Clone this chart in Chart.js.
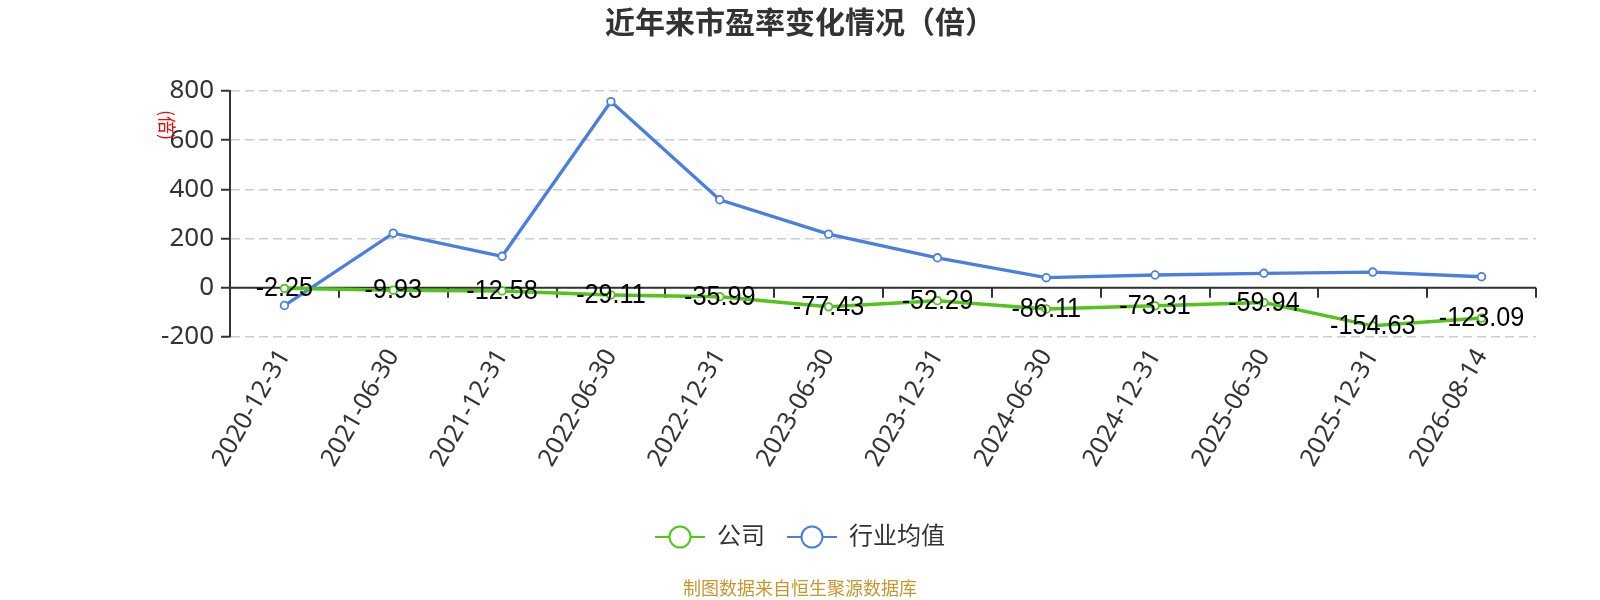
<!DOCTYPE html>
<html>
<head>
<meta charset="utf-8">
<script src="https://cdn.jsdelivr.net/npm/chart.js@4.4.1/dist/chart.umd.min.js"></script>
<style>
html, body { margin: 0; padding: 0; background: #fff; }
</style>
</head>
<body>
<canvas id="myChart" width="1600" height="600"></canvas>
<script>
const dates = ['2020-12-31','2021-06-30','2021-12-31','2022-06-30','2022-12-31','2023-06-30',
               '2023-12-31','2024-06-30','2024-12-31','2025-06-30','2025-12-31','2026-08-14'];
const companyPE = [-2.25,-9.93,-12.58,-29.11,-35.99,-77.43,-52.29,-86.11,-73.31,-59.94,-154.63,-123.09];
const industryPE = [-72,222,128,757,358,218,122,41,52,59,64,45];
const yTicks = [-200,0,200,400,600,800];
const seriesNames = ['公司','行业均值'];
const colors = ['#52c41a','#4a7fe0'];

const FONT = '"Noto Sans", "Noto Sans CJK SC", sans-serif';
Chart.defaults.font.family = FONT;

// legend icon: short line with hollow circle
function legendIcon(color) {
    const c = document.createElement('canvas');
    c.width = 50; c.height = 26;
    const g = c.getContext('2d');
    g.strokeStyle = color;
    g.lineWidth = 2;
    g.beginPath(); g.moveTo(0, 13); g.lineTo(50, 13); g.stroke();
    g.beginPath(); g.arc(25, 13, 10.5, 0, Math.PI * 2);
    g.fillStyle = '#fff'; g.fill(); g.stroke();
    return c;
}
const icons = colors.map(legendIcon);

// zero axis line with ticks, value labels, axis name and source note
const extras = {
    id: 'extras',
    beforeDatasetsDraw(chart) {
        const {ctx, chartArea, scales: {x, y}} = chart;
        const y0 = y.getPixelForValue(0);
        ctx.save();
        ctx.strokeStyle = '#333';
        ctx.lineWidth = 2;
        ctx.beginPath();
        ctx.moveTo(chartArea.left, y0);
        ctx.lineTo(chartArea.right, y0);
        for (let k = 1; k <= dates.length; k++) {
            const px = Math.round(x.getPixelForValue(k - 0.5));
            ctx.moveTo(px, y0);
            ctx.lineTo(px, y0 + 10);
        }
        ctx.stroke();
        ctx.restore();
    },
    afterDatasetsDraw(chart) {
        const {ctx, chartArea} = chart;
        const meta = chart.getDatasetMeta(0);
        ctx.save();
        ctx.fillStyle = '#000';
        ctx.textAlign = 'center';
        ctx.textBaseline = 'alphabetic';
        ctx.font = '28px "Liberation Sans", Arial, sans-serif';
        meta.data.forEach((pt, i) => {
            ctx.save();
            ctx.translate(pt.x, pt.y + 8);
            ctx.scale(0.9, 1);   // narrow label text
            ctx.fillText(companyPE[i].toFixed(2), 0, 0);
            ctx.restore();
        });

        ctx.fillStyle = '#ff0000';
        ctx.font = '18px "Noto Sans CJK SC", sans-serif';
        ctx.textBaseline = 'middle';
        ctx.translate(chartArea.left - 63, chartArea.top + 34);
        ctx.rotate(Math.PI / 2);
        ctx.fillText('(倍)', 0, 0);
        ctx.restore();

        ctx.save();
        ctx.fillStyle = '#c8962e';
        ctx.font = '18px "Noto Sans CJK SC", sans-serif';
        ctx.textAlign = 'center';
        ctx.textBaseline = 'middle';
        ctx.fillText('制图数据来自恒生聚源数据库', chart.width / 2, chart.height - 12);
        ctx.restore();
    }
};

const ctx = document.getElementById('myChart').getContext('2d');
const chart = new Chart(ctx, {
    type: 'line',
    data: {
        labels: dates,
        datasets: [{
            label: seriesNames[0],
            data: companyPE,
            borderColor: colors[0],
            borderWidth: 3.5,
            pointRadius: 3.8,
            pointBorderWidth: 1.8,
            pointBackgroundColor: '#fff',
            pointBorderColor: colors[0],
            tension: 0
        }, {
            label: seriesNames[1],
            data: industryPE,
            borderColor: colors[1],
            borderWidth: 3.3,
            pointRadius: 3.8,
            pointBorderWidth: 1.8,
            pointBackgroundColor: '#fff',
            pointBorderColor: colors[1],
            tension: 0
        }]
    },
    options: {
        responsive: false,
        animation: false,
        layout: {
            padding: {top: 0, left: 64, right: 64, bottom: 41}
        },
        scales: {
            x: {
                offset: true,
                grid: {display: false, drawTicks: false},
                border: {display: false},
                ticks: {
                    autoSkip: false,
                    minRotation: 60,
                    maxRotation: 60,
                    padding: 7,
                    color: '#333',
                    font: {size: 25}
                },
                afterFit: s => { s.height = 166; }
            },
            y: {
                min: -200,
                max: 800,
                afterBuildTicks: s => { s.ticks = yTicks.map(v => ({value: v})); },
                grid: {
                    color: '#ccc',
                    lineWidth: 1.5,
                    tickColor: '#333',
                    tickLength: 9,
                    tickWidth: 2
                },
                border: {display: true, color: '#333', width: 2, dash: [9, 5]},
                ticks: {
                    padding: 7,
                    color: '#333',
                    font: {size: 26}
                },
                afterFit: s => { s.width = 166; }
            }
        },
        plugins: {
            title: {
                display: true,
                text: '近年来市盈率变化情况（倍）',
                color: '#333',
                font: {size: 30, weight: 'bold', family: '"Noto Sans CJK SC", sans-serif'},
                padding: {top: 4, bottom: 51}
            },
            legend: {
                position: 'bottom',
                labels: {
                    usePointStyle: true,
                    pointStyleWidth: 50,
                    boxHeight: 24,
                    padding: 22,
                    color: '#333',
                    font: {size: 24},
                    generateLabels: c => Chart.defaults.plugins.legend.labels.generateLabels(c)
                        .map((item, i) => Object.assign(item, {pointStyle: icons[i]}))
                }
            },
            tooltip: {enabled: false}
        }
    },
    plugins: [extras]
});
</script>
</body>
</html>
